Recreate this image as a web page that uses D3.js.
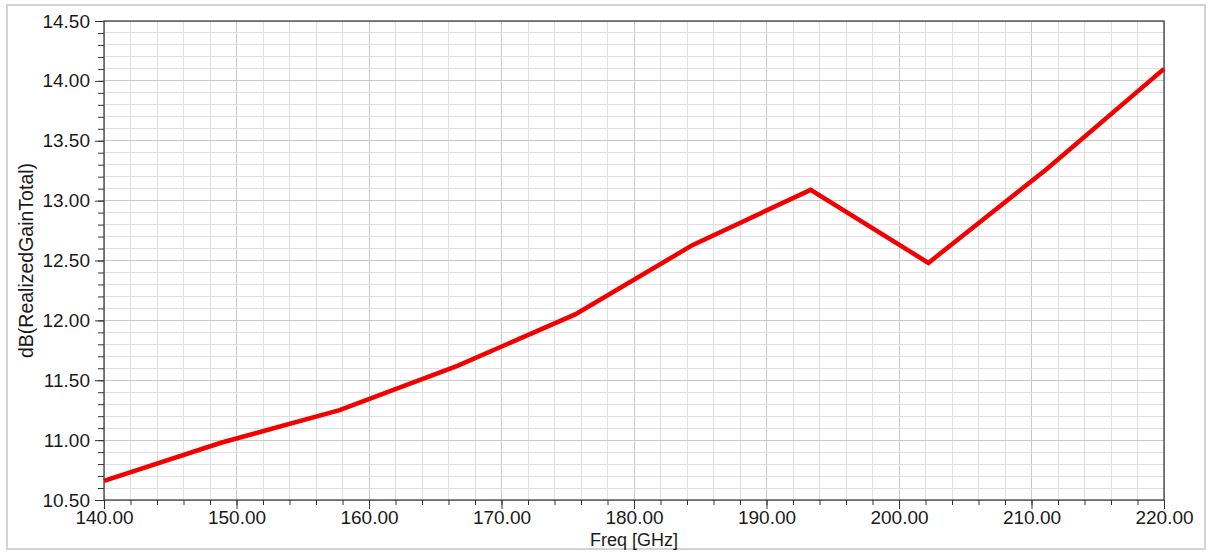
<!DOCTYPE html>
<html>
<head>
<meta charset="utf-8">
<script src="https://cdn.jsdelivr.net/npm/d3@7"></script>
<style>
  html, body { margin: 0; padding: 0; background: #fff; }
  svg { display: block; font-family: "Liberation Sans", Arial, sans-serif; }
</style>
</head>
<body>
<svg id="chart" width="1208" height="552"></svg>
<script>
// ---- data ----
const freqs = [140, 148.89, 157.78, 166.67, 175.56, 184.44, 193.33, 202.22, 211.11, 220];
const gain  = [10.66, 10.98, 11.25, 11.62, 12.05, 12.63, 13.09, 12.48, 13.26, 14.10];
const xTickValues = [140, 150, 160, 170, 180, 190, 200, 210, 220];
const yTickValues = [10.5, 11.0, 11.5, 12.0, 12.5, 13.0, 13.5, 14.0, 14.5];
const xMinorStep = 2;
const yMinorStep = 0.1;
const xLabel = "Freq [GHz]";
const yLabel = "dB(RealizedGainTotal)";

// ---- layout ----
const W = 1208, H = 552;
const L = 104, R = 1164, T = 21, B = 500;

const svg = d3.select("#chart");

// outer frame
svg.append("rect")
  .attr("x", 7).attr("y", 5).attr("width", 1198).attr("height", 544)
  .attr("fill", "#fff").attr("stroke", "#d4d4d4").attr("stroke-width", 2);

const x = d3.scaleLinear().domain([140, 220]).range([L, R]);
const y = d3.scaleLinear().domain([10.5, 14.5]).range([B, T]);

const xMinor = d3.range(140, 220 + 1e-9, xMinorStep);
const yMinor = d3.range(0, 41).map(i => +(10.5 + i * yMinorStep).toFixed(2));

// grid
const grid = svg.append("g");
grid.selectAll("line.vx").data(xMinor).join("line")
  .attr("x1", d => x(d)).attr("x2", d => x(d)).attr("y1", T).attr("y2", B)
  .attr("stroke", d => (Math.abs(d % 10) < 1e-6 ? "#c8c8c8" : "#e0e0e0"))
  .attr("stroke-width", 1).attr("shape-rendering", "crispEdges");
grid.selectAll("line.hy").data(yMinor).join("line")
  .attr("y1", d => y(d)).attr("y2", d => y(d)).attr("x1", L).attr("x2", R)
  .attr("stroke", d => (Math.abs((d * 2) - Math.round(d * 2)) < 1e-6 ? "#c8c8c8" : "#e0e0e0"))
  .attr("stroke-width", 1).attr("shape-rendering", "crispEdges");

// minor ticks
svg.append("g").attr("transform", `translate(0,${B})`)
  .call(d3.axisBottom(x).tickValues(xMinor).tickSize(5).tickFormat(""))
  .call(g => g.select(".domain").remove())
  .call(g => g.selectAll("line").attr("stroke", "#333"));
svg.append("g").attr("transform", `translate(${L},0)`)
  .call(d3.axisLeft(y).tickValues(yMinor).tickSize(6).tickFormat(""))
  .call(g => g.select(".domain").remove())
  .call(g => g.selectAll("line").attr("stroke", "#333"));

// major axes
const xAxis = svg.append("g").attr("transform", `translate(0,${B})`)
  .call(d3.axisBottom(x).tickValues(xTickValues).tickSize(9).tickSizeOuter(0).tickPadding(2).tickFormat(d3.format(".2f")));
xAxis.selectAll("text").attr("font-size", 19).attr("fill", "#1a1a1a")
  .attr("font-family", "'Liberation Sans', Arial, sans-serif");
xAxis.selectAll("line").attr("stroke", "#333");
xAxis.select(".domain").remove();

const yAxis = svg.append("g").attr("transform", `translate(${L},0)`)
  .call(d3.axisLeft(y).tickValues(yTickValues).tickSize(9).tickSizeOuter(0).tickPadding(5).tickFormat(d3.format(".2f")));
yAxis.selectAll("text").attr("font-size", 19).attr("fill", "#1a1a1a")
  .attr("font-family", "'Liberation Sans', Arial, sans-serif");
yAxis.selectAll("line").attr("stroke", "#333");
yAxis.select(".domain").remove();

// plot frame
svg.append("rect")
  .attr("x", L).attr("y", T).attr("width", R - L).attr("height", B - T)
  .attr("fill", "none").attr("stroke", "#333").attr("stroke-width", 1.2);

// axis titles
svg.append("text")
  .attr("x", x(180)).attr("y", 545.5)
  .attr("text-anchor", "middle").attr("font-size", 18).attr("fill", "#1a1a1a")
  .text(xLabel);
svg.append("text")
  .attr("transform", `translate(33,${(T + B) / 2}) rotate(-90)`)
  .attr("text-anchor", "middle").attr("font-size", 19.5).attr("fill", "#1a1a1a")
  .text(yLabel);

// line
const pts = freqs.map((f, i) => [f, gain[i]]);
svg.append("path")
  .datum(pts)
  .attr("fill", "none")
  .attr("stroke", "#f20000")
  .attr("stroke-width", 4.5)
  .attr("stroke-linejoin", "miter")
  .attr("d", d3.line().x(d => x(d[0])).y(d => y(d[1])));
</script>
</body>
</html>
